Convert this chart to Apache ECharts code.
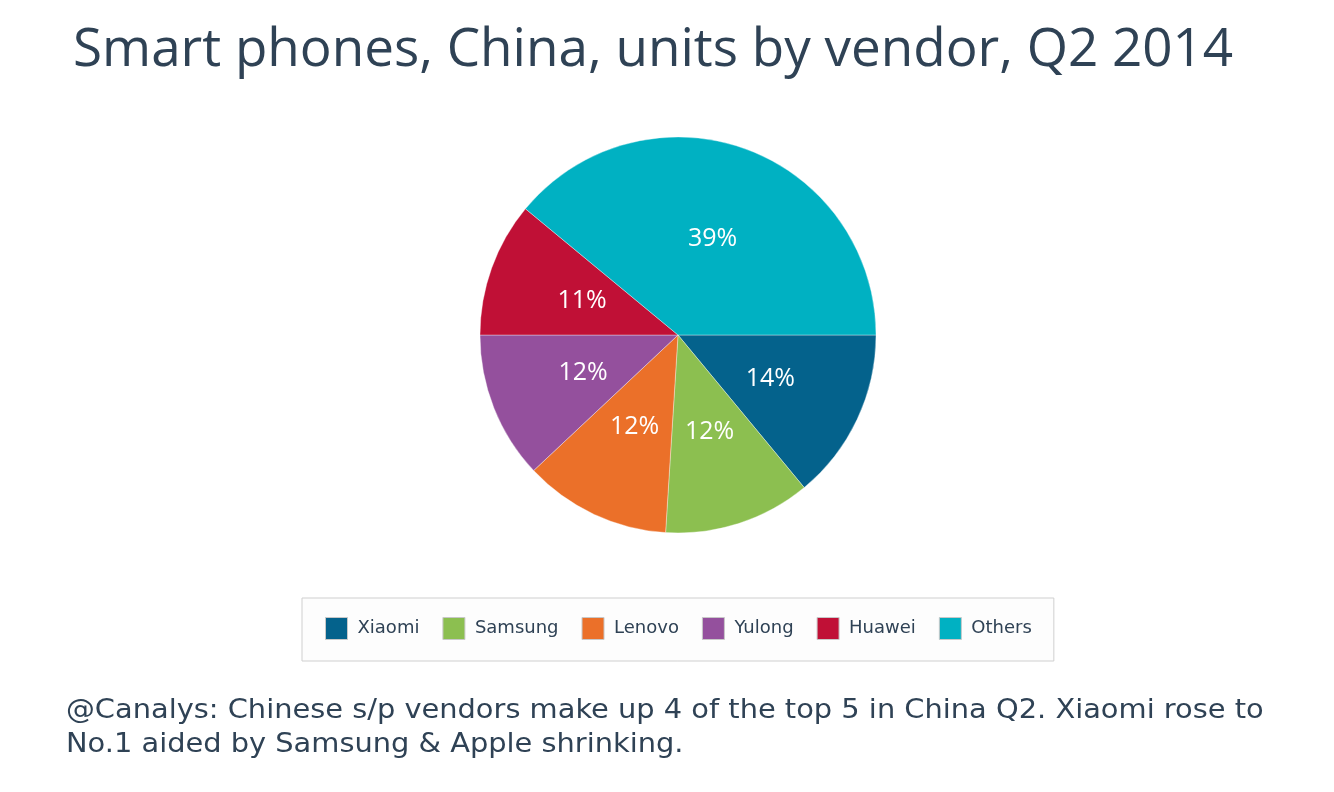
<!DOCTYPE html>
<html>
<head>
<meta charset="utf-8">
<script src="https://cdn.jsdelivr.net/npm/echarts@6/dist/echarts.min.js"></script>
<style>
  html, body { margin: 0; padding: 0; background: #fff; }
  #chart { width: 1334px; height: 792px; }
</style>
</head>
<body>
<div id="chart"></div>
<script>
// vendor shares, Q2 2014 (percent)
var vendors = ['Xiaomi', 'Samsung', 'Lenovo', 'Yulong', 'Huawei', 'Others'];
var shares = [14, 12, 12, 12, 11, 39];
var colors = ['#04628c', '#8cbf50', '#eb7029', '#94509d', '#c01036', '#00b1c2'];

var chartDom = document.getElementById('chart');
var myChart = echarts.init(chartDom);

var pieData = vendors.map(function (name, i) {
  return { name: name, value: shares[i], itemStyle: { color: colors[i] } };
});

var option = {
  backgroundColor: '#ffffff',
  title: {
    text: 'Smart phones, China, units by vendor, Q2 2014',
    left: 68,
    top: 19,
    textStyle: {
      fontFamily: 'Open Sans',
      fontSize: 53,
      fontWeight: 'normal',
      color: '#2f4255'
    }
  },
  // caption under the legend (stretched a bit to match the wider original face)
  graphic: [
    {
      type: 'text',
      x: 66,
      y: 694,
      scaleX: 1.11,
      style: {
        text: '@Canalys: Chinese s/p vendors make up 4 of the top 5 in China Q2. Xiaomi rose to\nNo.1 aided by Samsung & Apple shrinking.',
        fontFamily: 'DejaVu Sans',
        fontSize: 26,
        lineHeight: 34,
        fill: '#2f4255'
      }
    }
  ],
  legend: {
    data: vendors,
    left: 302,
    top: 598,
    width: 751,
    padding: [19, 22, 21, 23],
    itemGap: 23,
    itemWidth: 22,
    itemHeight: 22,
    icon: 'rect',
    selectedMode: false,
    backgroundColor: '#fdfdfd',
    borderColor: '#cfcfcf',
    borderWidth: 1,
    itemStyle: { borderColor: '#c8c8c8', borderWidth: 1 },
    textStyle: {
      fontFamily: 'DejaVu Sans',
      fontSize: 18,
      color: '#2f4255',
      padding: [3, 0, 0, 5]
    }
  },
  series: [
    {
      name: 'Units',
      type: 'pie',
      center: [678, 335],
      radius: 198,
      startAngle: 0,
      clockwise: true,
      animation: false,
      data: pieData,
      itemStyle: { borderColor: 'rgba(255,255,255,0.35)', borderWidth: 1 },
      label: {
        position: 'inside',
        formatter: '{d}%',
        color: '#ffffff',
        fontFamily: 'Open Sans',
        fontSize: 25,
        padding: [4, 0, 0, 0]
      },
      labelLine: { show: false },
      emphasis: { disabled: true }
    }
  ]
};

myChart.setOption(option);
</script>
</body>
</html>
